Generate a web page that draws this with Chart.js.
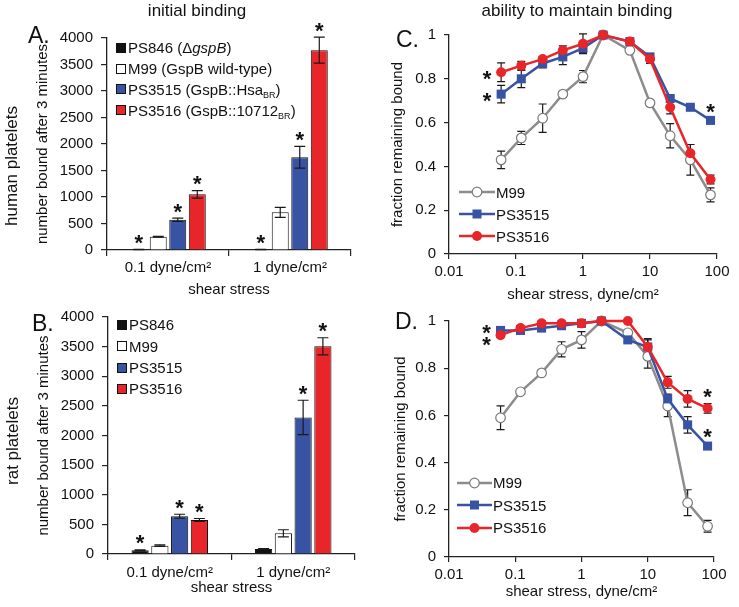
<!DOCTYPE html>
<html>
<head>
<meta charset="utf-8">
<title>GspB platelet binding</title>
<script src="https://cdn.jsdelivr.net/npm/chart.js@4.4.1/dist/chart.umd.min.js"></script>
<style>
  body { margin: 0; background: #fff; }
  #fig { position: relative; width: 739px; height: 607px; overflow: hidden; font-family: "Liberation Sans", Arial, sans-serif; color: #111; }
  #fig canvas { position: absolute; }
  .txt { position: absolute; white-space: nowrap; line-height: 1; }
  .head { font-size: 17px; transform: translate(-50%, -50%); }
  .letter { font-size: 23px; transform: translateY(-50%); }
  .side { font-size: 17px; transform: translate(-50%, -50%) rotate(-90deg); }
  .legend { position: absolute; font-size: 15px; }
  .legend .row { display: flex; align-items: center; white-space: nowrap; }
  .legend .box { width: 8px; height: 8px; border: 1px solid #111; margin-right: 2px; }
  .legend svg { margin-right: 1px; }
  .legend sub { font-size: 9px; vertical-align: -3px; line-height: 0; }
</style>
</head>
<body>
<div id="fig">
  <canvas id="chartA" width="370" height="300" style="left:0;top:0"></canvas>
  <canvas id="chartB" width="370" height="307" style="left:0;top:300px"></canvas>
  <canvas id="chartC" width="369" height="305" style="left:370px;top:0"></canvas>
  <canvas id="chartD" width="369" height="307" style="left:370px;top:300px"></canvas>

  <div class="txt head" style="left:197px;top:10px">initial binding</div>
  <div class="txt head" style="left:577px;top:10px">ability to maintain binding</div>
  <div class="txt letter" style="left:28px;top:35px">A.</div>
  <div class="txt letter" style="left:32px;top:323px">B.</div>
  <div class="txt letter" style="left:396px;top:39px">C.</div>
  <div class="txt letter" style="left:395px;top:321px">D.</div>
  <div class="txt side" style="left:11px;top:166px">human platelets</div>
  <div class="txt side" style="left:12px;top:441px">rat platelets</div>

  <div id="legendA" class="legend" style="left:116px;top:37.6px"></div>
  <div id="legendB" class="legend" style="left:117px;top:314.3px"></div>
  <div id="legendC" class="legend" style="left:459px;top:181px"></div>
  <div id="legendD" class="legend" style="left:457px;top:471.7px"></div>
</div>
<script>
// ---- bar panels (A: human, B: rat) ----
const shearGroups = ['0.1 dyne/cm²', '1 dyne/cm²'];
const strains = ['PS846', 'M99', 'PS3515', 'PS3516'];
const humanLegend = ['PS846 (Δ<i>gspB</i>)', 'M99 (GspB wild-type)', 'PS3515 (GspB::Hsa<sub>BR</sub>)', 'PS3516 (GspB::10712<sub>BR</sub>)'];

const humanPS846 = [8, 8];
const humanM99 = [250, 710];
const humanPS3515 = [570, 1750];
const humanPS3516 = [1050, 3770];
const humanPS846Err = [3, 3];
const humanM99Err = [8, 95];
const humanPS3515Err = [30, 205];
const humanPS3516Err = [70, 245];
const humanPS846Star = [1, 1];
const humanM99Star = [0, 0];
const humanPS3515Star = [1, 1];
const humanPS3516Star = [1, 1];

const ratPS846 = [62, 84];
const ratM99 = [141, 349];
const ratPS3515 = [638, 2305];
const ratPS3516 = [574, 3505];
const ratPS846Err = [10, 8];
const ratM99Err = [12, 60];
const ratPS3515Err = [33, 290];
const ratPS3516Err = [25, 145];
const ratPS846Star = [1, 0];
const ratM99Star = [0, 0];
const ratPS3515Star = [1, 1];
const ratPS3516Star = [1, 1];

// ---- line panels (C: human, D: rat) ----
const shear = [0.06, 0.12, 0.25, 0.5, 1, 2, 5, 10, 20, 40, 80];
const decades = [0.01, 0.1, 1, 10, 100];

const cM99 = [0.43, 0.53, 0.62, 0.73, 0.81, 1.0, 0.93, 0.69, 0.54, 0.43, 0.27];
const cM99Err = [0.04, 0.03, 0.065, 0.012, 0.028, 0, 0.005, 0.005, 0.055, 0.07, 0.032];
const cPS3515 = [0.73, 0.80, 0.87, 0.90, 0.94, 1.0, 0.97, 0.90, 0.71, 0.67, 0.61];
const cPS3515Err = [0.04, 0.04, 0.02, 0.035, 0.02, 0, 0.01, 0.01, 0.01, 0.01, 0.01];
const cPS3516 = [0.83, 0.86, 0.89, 0.93, 0.96, 1.0, 0.97, 0.89, 0.67, 0.46, 0.34];
const cPS3516Err = [0.043, 0.02, 0.01, 0.02, 0.045, 0, 0.01, 0.02, 0.03, 0.04, 0.02];
const cPS3515Star = [1, 0, 0, 0, 0, 0, 0, 0, 0, 0, 1];
const cPS3516Star = [1, 0, 0, 0, 0, 0, 0, 0, 0, 0, 0];

const dM99 = [0.59, 0.70, 0.78, 0.88, 0.92, 1.0, 0.95, 0.85, 0.64, 0.23, 0.13];
const dM99Err = [0.05, 0.005, 0.01, 0.032, 0.035, 0, 0.01, 0.05, 0.045, 0.055, 0.025];
const dPS3515 = [0.96, 0.96, 0.97, 0.98, 0.99, 1.0, 0.92, 0.89, 0.67, 0.56, 0.47];
const dPS3515Err = [0.01, 0.01, 0.01, 0.01, 0.01, 0, 0.01, 0.03, 0.02, 0.035, 0.01];
const dPS3516 = [0.94, 0.97, 0.99, 0.99, 0.99, 1.0, 1.0, 0.89, 0.74, 0.67, 0.63];
const dPS3516Err = [0.01, 0.01, 0.01, 0.01, 0.01, 0, 0.005, 0.035, 0.025, 0.035, 0.02];
const dPS3515Star = [1, 0, 0, 0, 0, 0, 0, 0, 0, 0, 1];
const dPS3516Star = [1, 0, 0, 0, 0, 0, 0, 0, 0, 0, 1];

const blue = '#3953a4';
const red = '#e8262a';
const grey = '#8c8c8c';
const strainColors = ['#111111', '#ffffff', blue, red];
const axisColor = '#222';
const fontFamily = '"Liberation Sans", Arial, sans-serif';
const tickFont = { family: fontFamily, size: 15 };

Chart.defaults.font.family = fontFamily;

function yValue(d) { return typeof d === 'object' ? d.y : d; }

// error bars + significance stars, drawn with the chart's own y scale
function drawErrorBars(chart, opts) {
  const ctx = chart.ctx, yScale = chart.scales.y;
  ctx.save();
  ctx.strokeStyle = '#1a1a1a';
  ctx.lineWidth = 1.2;
  chart.data.datasets.forEach((ds, i) => {
    if (!ds.errors) return;
    chart.getDatasetMeta(i).data.forEach((el, j) => {
      const e = ds.errors[j];
      if (!e) return;
      const v = yValue(ds.data[j]);
      const t = yScale.getPixelForValue(v + e), b = yScale.getPixelForValue(v - e);
      ctx.beginPath();
      ctx.moveTo(el.x, t); ctx.lineTo(el.x, b);
      ctx.moveTo(el.x - opts.cap, t); ctx.lineTo(el.x + opts.cap, t);
      ctx.moveTo(el.x - opts.cap, b); ctx.lineTo(el.x + opts.cap, b);
      ctx.stroke();
    });
  });
  ctx.restore();
}

function drawStars(chart, opts) {
  const ctx = chart.ctx, yScale = chart.scales.y, fs = 22;
  const side = [];
  ctx.save();
  ctx.fillStyle = '#111';
  ctx.font = 'bold ' + fs + 'px ' + fontFamily;
  ctx.textAlign = 'center';
  ctx.textBaseline = 'alphabetic';
  chart.data.datasets.forEach((ds, i) => {
    if (!ds.stars) return;
    chart.getDatasetMeta(i).data.forEach((el, j) => {
      if (!ds.stars[j]) return;
      if (opts.starLeftOfFirst && j === 0) { side.push({ x: el.x - 14, y: el.y + 1 }); return; }
      const top = yScale.getPixelForValue(yValue(ds.data[j]) + (ds.errors ? ds.errors[j] : 0));
      ctx.fillText('*', el.x, top - 12 + 0.575 * fs);
    });
  });
  // stars beside the first point: keep them from overlapping
  side.sort((a, b) => a.y - b.y);
  for (let k = 1; k < side.length; k++) {
    if (side[k].y - side[k - 1].y < 12) {
      const m = (side[k].y + side[k - 1].y) / 2;
      side[k - 1].y = m - 6;
      side[k].y = m + 6;
    }
  }
  side.forEach(s => ctx.fillText('*', s.x, s.y + 0.575 * fs));
  ctx.restore();
}

const errorBarPlugin = {
  id: 'errorBars',
  beforeDatasetsDraw(chart, args, opts) { if (opts.behind) drawErrorBars(chart, opts); },
  afterDatasetsDraw(chart, args, opts) {
    if (!opts.behind) drawErrorBars(chart, opts);
    drawStars(chart, opts);
  }
};

function axisBase(g) {
  return {
    grid: { drawOnChartArea: false, tickLength: g.tick, color: axisColor, lineWidth: 1.2 },
    border: { color: axisColor, width: 1.3 }
  };
}

function makeBarChart(id, values, errors, stars, g) {
  return new Chart(document.getElementById(id), {
    type: 'bar',
    data: {
      labels: shearGroups,
      datasets: strains.map((name, i) => ({
        label: name,
        data: values[i],
        errors: errors[i],
        stars: stars[i],
        backgroundColor: strainColors[i],
        borderColor: '#111',
        borderWidth: 1,
        categoryPercentage: 0.64,
        barPercentage: 0.87
      }))
    },
    options: {
      responsive: false,
      animation: false,
      events: [],
      layout: { padding: g.pad },
      plugins: {
        legend: { display: false },
        tooltip: { enabled: false },
        errorBars: { behind: false, cap: 5.5 }
      },
      scales: {
        x: Object.assign(axisBase(g), {
          ticks: { font: tickFont, color: '#111', padding: g.xTickPad },
          title: { display: true, text: 'shear stress', font: tickFont, color: '#111', padding: { top: 0, bottom: g.xTitlePad } },
          afterFit(s) { s.height = g.xh; }
        }),
        y: Object.assign(axisBase(g), {
          min: 0,
          max: 4000,
          ticks: { stepSize: 500, font: tickFont, color: '#111', padding: 8, callback: v => String(v) },
          title: { display: true, text: 'number bound after 3 minutes', font: tickFont, color: '#111', padding: { top: g.yTitlePad, bottom: 0 } },
          afterFit(s) { s.width = g.yw; }
        })
      }
    },
    plugins: [errorBarPlugin]
  });
}

function points(ys) { return shear.map((x, i) => ({ x: x, y: ys[i] })); }

function makeLineChart(id, m99, m99Err, s15, s15Err, s15Star, s16, s16Err, s16Star, g) {
  return new Chart(document.getElementById(id), {
    type: 'line',
    data: {
      datasets: [
        { label: 'M99', data: points(m99), errors: m99Err, borderColor: grey, borderWidth: 2.5,
          pointStyle: 'circle', pointRadius: 4.8, pointBackgroundColor: '#fff', pointBorderColor: '#7a7a7a',
          pointBorderWidth: 1.2, order: 3, clip: false },
        { label: 'PS3515', data: points(s15), errors: s15Err, stars: s15Star, borderColor: blue, borderWidth: 2.5,
          pointStyle: 'rect', pointRadius: 6.4, pointBackgroundColor: blue, pointBorderColor: blue,
          pointBorderWidth: 0, order: 2, clip: false },
        { label: 'PS3516', data: points(s16), errors: s16Err, stars: s16Star, borderColor: red, borderWidth: 2.5,
          pointStyle: 'circle', pointRadius: 5, pointBackgroundColor: red, pointBorderColor: red,
          pointBorderWidth: 0, order: 1, clip: false }
      ]
    },
    options: {
      responsive: false,
      animation: false,
      events: [],
      layout: { padding: g.pad },
      plugins: {
        legend: { display: false },
        tooltip: { enabled: false },
        errorBars: { behind: true, cap: 4, starLeftOfFirst: true }
      },
      scales: {
        x: Object.assign(axisBase(g), {
          type: 'logarithmic',
          min: 0.01,
          max: 100,
          afterBuildTicks(s) { s.ticks = decades.map(v => ({ value: v })); },
          ticks: { font: tickFont, color: '#111', padding: g.xTickPad, autoSkip: false, maxRotation: 0, callback: v => String(v) },
          title: { display: true, text: 'shear stress, dyne/cm²', font: tickFont, color: '#111', padding: { top: 0, bottom: g.xTitlePad } },
          afterFit(s) { s.height = g.xh; }
        }),
        y: Object.assign(axisBase(g), {
          min: 0,
          max: 1,
          ticks: { stepSize: 0.2, font: tickFont, color: '#111', padding: 8, callback: v => String(+v.toFixed(1)) },
          title: { display: true, text: 'fraction remaining bound', font: tickFont, color: '#111', padding: { top: g.yTitlePad, bottom: 0 } },
          afterFit(s) { s.width = g.yw; }
        })
      }
    },
    plugins: [errorBarPlugin]
  });
}

function buildBarLegend(id, labels, rowH) {
  document.getElementById(id).innerHTML = labels.map((t, i) =>
    '<div class="row" style="height:' + rowH + 'px"><span class="box" style="background:' + strainColors[i] +
    '"></span><span>' + t + '</span></div>').join('');
}

function buildLineLegend(id, chart, rowH, lineW) {
  document.getElementById(id).innerHTML = chart.data.datasets.map(ds => {
    const c = lineW / 2;
    const mk = ds.pointStyle === 'rect'
      ? '<rect x="' + (c - 4.5) + '" y="1.5" width="9" height="9" fill="' + ds.pointBackgroundColor + '"/>'
      : '<circle cx="' + c + '" cy="6" r="' + ds.pointRadius + '" fill="' + ds.pointBackgroundColor +
        '" stroke="' + ds.pointBorderColor + '" stroke-width="' + (ds.pointBorderWidth || 0) + '"/>';
    return '<div class="row" style="height:' + rowH + 'px"><svg width="' + lineW + '" height="12">' +
      '<line x1="0" y1="6" x2="' + lineW + '" y2="6" stroke="' + ds.borderColor + '" stroke-width="2.5"/>' + mk +
      '</svg><span>' + ds.label + '</span></div>';
  }).join('');
}

makeBarChart('chartA',
  [humanPS846, humanM99, humanPS3515, humanPS3516],
  [humanPS846Err, humanM99Err, humanPS3515Err, humanPS3516Err],
  [humanPS846Star, humanM99Star, humanPS3515Star, humanPS3516Star],
  { pad: { left: 0, top: 38, right: 19, bottom: 0 }, yw: 107, xh: 50, tick: 6, xTickPad: 3, xTitlePad: 1, yTitlePad: 34 });

makeBarChart('chartB',
  [ratPS846, ratM99, ratPS3515, ratPS3516],
  [ratPS846Err, ratM99Err, ratPS3515Err, ratPS3516Err],
  [ratPS846Star, ratM99Star, ratPS3515Star, ratPS3516Star],
  { pad: { left: 0, top: 17, right: 15, bottom: 0 }, yw: 108, xh: 53, tick: 6, xTickPad: 4, xTitlePad: 10, yTitlePad: 35 });

const chartC = makeLineChart('chartC', cM99, cM99Err, cPS3515, cPS3515Err, cPS3515Star, cPS3516, cPS3516Err, cPS3516Star,
  { pad: { left: 0, top: 35, right: 22, bottom: 0 }, yw: 79, xh: 51, tick: 5, xTickPad: 4, xTitlePad: 1, yTitlePad: 19 });

const chartD = makeLineChart('chartD', dM99, dM99Err, dPS3515, dPS3515Err, dPS3515Star, dPS3516, dPS3516Err, dPS3516Star,
  { pad: { left: 0, top: 21, right: 25, bottom: 0 }, yw: 79, xh: 50, tick: 5, xTickPad: 4, xTitlePad: 6, yTitlePad: 22 });

buildBarLegend('legendA', humanLegend, 20.7);
buildBarLegend('legendB', strains, 21.3);
buildLineLegend('legendC', chartC, 22, 36);
buildLineLegend('legendD', chartD, 22.5, 35);
</script>
</body>
</html>
